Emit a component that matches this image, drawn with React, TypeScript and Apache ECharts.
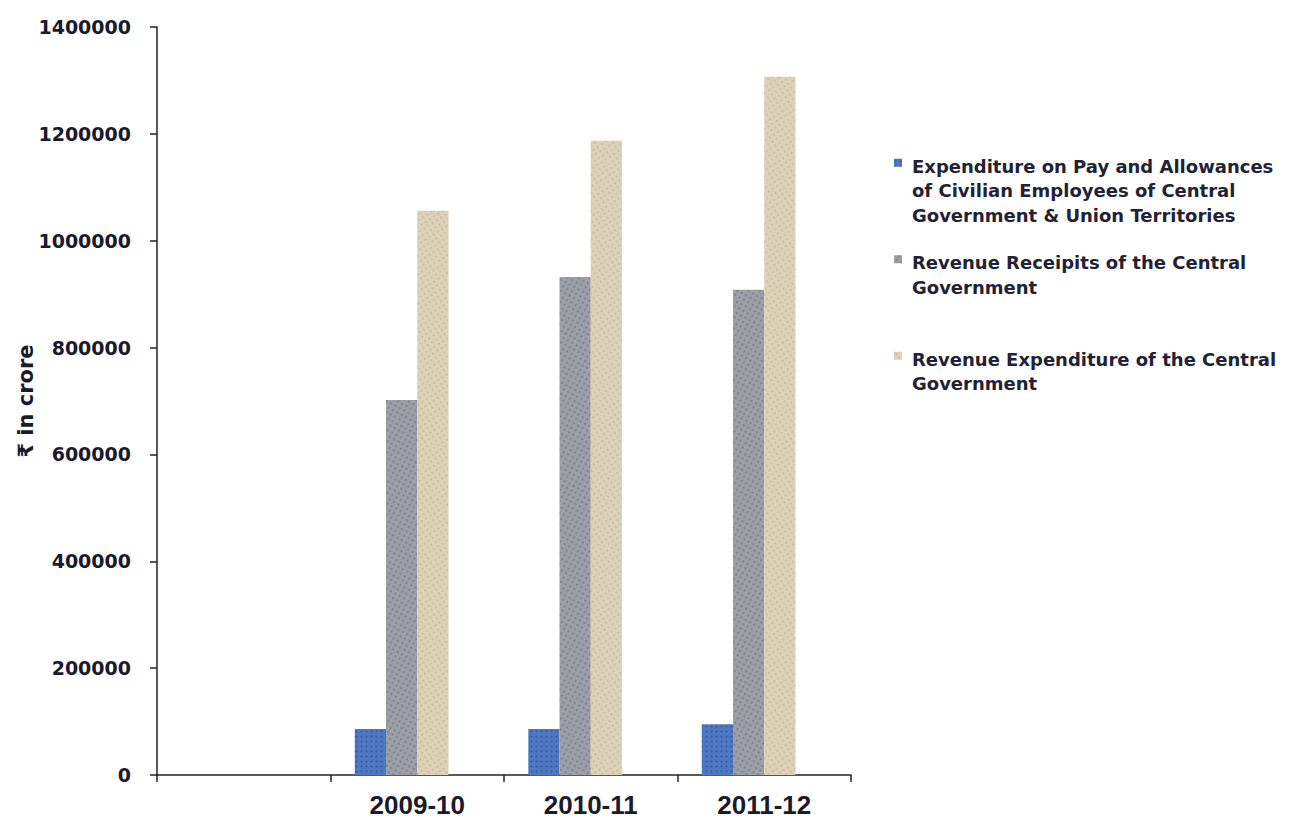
import React, { useEffect, useRef } from "react";
import * as echarts from "echarts";

const categories = ["", "2009-10", "2010-11", "2011-12"];
const seriesNames = [
  "Expenditure on Pay and Allowances of Civilian Employees of Central Government & Union Territories",
  "Revenue Receipits of the Central Government",
  "Revenue Expenditure of the Central Government",
];
const legendLabels = [
  "Expenditure on Pay and Allowances\nof Civilian Employees of Central\nGovernment & Union Territories",
  "Revenue Receipits of the Central\nGovernment\n ",
  "Revenue Expenditure of the Central\nGovernment\n ",
];
const payAllowances = [null, 86000, 86000, 95000];
const revenueReceipts = [null, 702000, 932000, 908000];
const revenueExpenditure = [null, 1056000, 1187000, 1307000];
const colors = ["#4f78c2", "#9c9ea8", "#ddd2b8"];
const decalColors = ["rgba(20,40,110,0.35)", "rgba(60,60,70,0.35)", "rgba(150,130,90,0.3)"];
const yTicks = { min: 0, max: 1400000, interval: 200000 };

const iconPath = "path://M0,1h1v1h-1zM0,8.99h0.01v0.01h-0.01z";

export default function App() {
  const ref = useRef<HTMLDivElement>(null);
  useEffect(() => {
    if (!ref.current) return;
    const chart = echarts.init(ref.current, undefined, { renderer: "svg" });
    const values = [payAllowances, revenueReceipts, revenueExpenditure];
    chart.setOption({
      animation: false,
      backgroundColor: "#ffffff",
      grid: {
        left: 157,
        right: 441,
        top: 27,
        bottom: 45,
        containLabel: false,
        outerBoundsMode: "none",
      },
      legend: {
        orient: "vertical",
        left: 889,
        top: 149,
        itemWidth: 8,
        itemHeight: 72,
        itemGap: 23,
        selectedMode: false,
        data: seriesNames.map((n) => ({ name: n, icon: iconPath })),
        formatter: (name: string) => legendLabels[seriesNames.indexOf(name)],
        textStyle: {
          fontFamily: "DejaVu Sans",
          fontWeight: "bold",
          fontSize: 18,
          lineHeight: 24.5,
          color: "#222233",
          padding: [0, 0, 0, 5],
        },
      },
      xAxis: {
        type: "category",
        data: categories,
        axisLine: { lineStyle: { color: "#222", width: 1.5 } },
        axisTick: { show: true, length: 7, lineStyle: { color: "#222", width: 1.5 } },
        axisLabel: {
          fontFamily: "Liberation Sans",
          fontWeight: "bold",
          fontSize: 26,
          color: "#1a1a2a",
          margin: 17,
        },
      },
      yAxis: {
        type: "value",
        min: yTicks.min,
        max: yTicks.max,
        interval: yTicks.interval,
        name: "₹ in crore",
        nameLocation: "middle",
        nameRotate: 90,
        nameGap: 121,
        nameMoveOverlap: false,
        nameTextStyle: {
          fontFamily: "DejaVu Sans",
          fontWeight: "bold",
          fontSize: 21,
          color: "#1a1a2a",
        },
        splitLine: { show: false },
        axisLine: { show: true, lineStyle: { color: "#222", width: 1.5 } },
        axisTick: { show: true, length: 7, lineStyle: { color: "#222", width: 1.5 } },
        axisLabel: {
          fontFamily: "DejaVu Sans",
          fontWeight: "bold",
          fontSize: 19,
          color: "#1a1a2a",
          margin: 26,
          formatter: (v: number) => String(v),
        },
      },
      series: [
        ...seriesNames.map((name, i) => ({
          name,
          type: "bar",
          data: values[i],
          barGap: "0%",
          barCategoryGap: "28%",
          itemStyle: {
            color: colors[i],
            decal: {
              symbol: "circle",
              symbolSize: 0.7,
              dashArrayX: [3, 2],
              dashArrayY: [3, 2],
              rotation: i * 0.5,
              color: decalColors[i],
            },
          },
        })),
        {
          name: "blank",
          type: "bar",
          data: [null, null, null, null],
          barGap: "0%",
          barCategoryGap: "28%",
        },
      ],
    });
    return () => chart.dispose();
  }, []);
  return (
    <div
      ref={ref}
      style={{ position: "fixed", left: 0, top: 0, width: 1292, height: 820 }}
    />
  );
}
